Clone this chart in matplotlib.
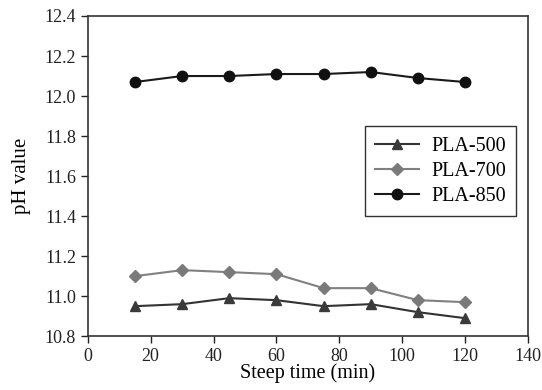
import matplotlib
matplotlib.use('Agg')
import matplotlib.pyplot as plt

plt.rcParams['font.family'] = ['Liberation Serif', 'DejaVu Serif']

# steep time (min)
time = [15, 30, 45, 60, 75, 90, 105, 120]

# pH values
pla_500 = [10.95, 10.96, 10.99, 10.98, 10.95, 10.96, 10.92, 10.89]
pla_700 = [11.10, 11.13, 11.12, 11.11, 11.04, 11.04, 10.98, 10.97]
pla_850 = [12.07, 12.10, 12.10, 12.11, 12.11, 12.12, 12.09, 12.07]

fig = plt.figure(figsize=(5.42, 3.90), dpi=100)
ax = fig.add_axes([0.162, 0.138, 0.812, 0.821])

ax.plot(time, pla_500, color='#333333', lw=1.5, marker='^', ms=7,
        mfc='#3a3a3a', mec='#3a3a3a', label='PLA-500')
ax.plot(time, pla_700, color='#808080', lw=1.5, marker='D', ms=6,
        mfc='#7a7a7a', mec='#7a7a7a', label='PLA-700')
ax.plot(time, pla_850, color='#1a1a1a', lw=1.5, marker='o', ms=7.5,
        mfc='#111111', mec='#111111', label='PLA-850')

ax.set_xlim(0, 140)
ax.set_ylim(10.8, 12.4)
ax.set_xticks(range(0, 141, 20))
ax.set_yticks([10.8 + 0.2 * i for i in range(9)])
ax.set_yticklabels(['%.1f' % (10.8 + 0.2 * i) for i in range(9)])
ax.tick_params(direction='out', length=5, width=1, labelsize=13,
               colors='#222222')
for s in ax.spines.values():
    s.set_color('#333333')
    s.set_linewidth(1.2)

ax.set_xlabel('Steep time (min)', fontsize=14.5, labelpad=-1)
ax.set_ylabel('pH value', fontsize=15, labelpad=10)

leg = ax.legend(loc='upper right', bbox_to_anchor=(0.973, 0.655),
                borderaxespad=0, fancybox=False, edgecolor='#333333',
                fontsize=14.5, handlelength=2.2, borderpad=0.5,
                labelspacing=0.3, handletextpad=0.6, framealpha=1)
leg.get_frame().set_linewidth(1.0)

fig.savefig('out.png', dpi=100)
